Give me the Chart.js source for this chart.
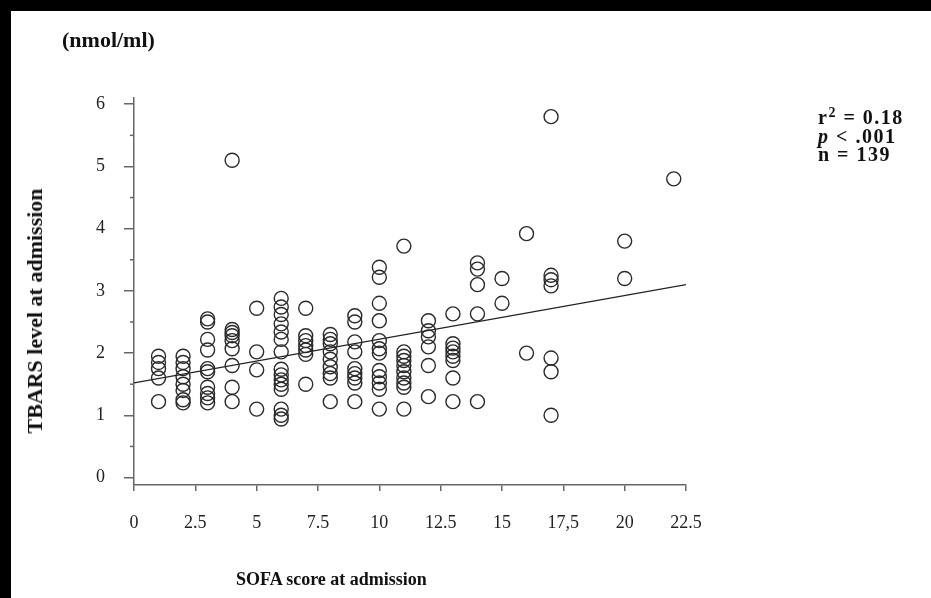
<!DOCTYPE html>
<html>
<head>
<meta charset="utf-8">
<script src="https://cdn.jsdelivr.net/npm/chart.js@4.4.0/dist/chart.umd.min.js"></script>
<style>
  body { margin: 0; background: #000; width: 931px; height: 598px; overflow: hidden; }
  #sheet { position: absolute; left: 11px; top: 11px; width: 920px; height: 587px; background: #fff; }
  #graficoTbars { position: absolute; left: 0; top: 0; }
  .txt { position: absolute; font-family: "Liberation Serif", serif; font-weight: bold; color: #111; white-space: nowrap; }
  #unidad { left: 51px; top: 16px; font-size: 22px; }
  #stats { left: 807px; top: 97px; font-size: 20px; line-height: 18.5px; letter-spacing: 1.5px; }
  #stats sup { font-size: 14px; line-height: 0; vertical-align: 7px; }
  #xtitulo { left: 225px; top: 558px; font-size: 18px; }
  #ytitulo { left: 24px; top: 300px; font-size: 22px; transform: translate(-50%, -50%) rotate(-90deg); }
</style>
</head>
<body>
<div id="sheet">
  <canvas id="graficoTbars" width="920" height="587"></canvas>
  <div class="txt" id="unidad">(nmol/ml)</div>
  <div class="txt" id="stats">r<sup>2</sup> = 0.18<br><i>p</i> &lt; .001<br>n = 139</div>
  <div class="txt" id="xtitulo">SOFA score at admission</div>
  <div class="txt" id="ytitulo">TBARS level at admission</div>
</div>
<script>
// SOFA score columns and the TBARS values read at each one
const sofaScores = [1, 2, 3, 4, 5, 6, 7, 8, 9, 10, 11, 12, 13, 14, 15, 16, 17, 20, 22];
const tbarsLevels = [
  [1.95, 1.85, 1.75, 1.6, 1.22],
  [1.95, 1.85, 1.75, 1.62, 1.5, 1.4, 1.25, 1.2],
  [2.55, 2.5, 2.22, 2.05, 1.75, 1.7, 1.45, 1.35, 1.28, 1.2],
  [5.1, 2.38, 2.33, 2.28, 2.2, 2.07, 1.8, 1.45, 1.22],
  [2.72, 2.02, 1.73, 1.1],
  [2.88, 2.74, 2.62, 2.47, 2.34, 2.22, 2.02, 1.74, 1.65, 1.57, 1.5, 1.42, 1.1, 1.0, 0.94],
  [2.72, 2.28, 2.2, 2.12, 2.05, 1.98, 1.5],
  [2.3, 2.22, 2.15, 2.02, 1.9, 1.78, 1.67, 1.6, 1.22],
  [2.6, 2.5, 2.18, 2.02, 1.75, 1.67, 1.6, 1.52, 1.22],
  [3.38, 3.22, 2.8, 2.52, 2.2, 2.07, 2.0, 1.72, 1.62, 1.52, 1.42, 1.1],
  [3.72, 2.02, 1.95, 1.88, 1.8, 1.7, 1.6, 1.52, 1.45, 1.1],
  [2.52, 2.36, 2.26, 2.1, 1.8, 1.3],
  [2.63, 2.15, 2.08, 2.02, 1.95, 1.88, 1.6, 1.22],
  [3.45, 3.35, 3.1, 2.63, 1.22],
  [3.2, 2.8],
  [3.92, 2.0],
  [5.8, 3.25, 3.18, 3.08, 1.92, 1.7, 1.0],
  [3.8, 3.2],
  [4.8]
];
// regression line ends
const trendX = [0, 22.5];
const trendY = [1.52, 3.1];
const xTickLabels = ['0', '2.5', '5', '7.5', '10', '12.5', '15', '17,5', '20', '22.5'];
const yMajorTicks = [0, 1, 2, 3, 4, 5, 6];
const yMinorTicks = [0.5, 1.5, 2.5, 3.5, 4.5, 5.5];

const puntos = [];
sofaScores.forEach(function (s, i) {
  tbarsLevels[i].forEach(function (v) { puntos.push({ x: s, y: v }); });
});
const linea = trendX.map(function (x, i) { return { x: x, y: trendY[i] }; });

const ejeColor = '#666';
const fuente = { family: 'Liberation Serif', size: 18 };

// short ticks at the half units of the y axis
const ticksMenores = {
  id: 'ticksMenores',
  afterDraw: function (chart) {
    const ctx = chart.ctx;
    const y = chart.scales.y;
    ctx.save();
    ctx.strokeStyle = ejeColor;
    ctx.lineWidth = 1.5;
    yMinorTicks.forEach(function (v) {
      const py = y.getPixelForValue(v);
      ctx.beginPath();
      ctx.moveTo(y.right - 4, py);
      ctx.lineTo(y.right, py);
      ctx.stroke();
    });
    ctx.restore();
  }
};

new Chart(document.getElementById('graficoTbars'), {
  type: 'scatter',
  data: {
    datasets: [{
      label: 'TBARS',
      data: puntos,
      pointStyle: 'circle',
      pointRadius: 7,
      pointBorderWidth: 1.4,
      pointBorderColor: '#2a2a2a',
      pointBackgroundColor: 'rgba(0,0,0,0)'
    }, {
      type: 'line',
      label: 'tendencia',
      data: linea,
      borderColor: '#222',
      borderWidth: 1.2,
      pointRadius: 0,
      fill: false
    }]
  },
  options: {
    responsive: false,
    animation: false,
    layout: { padding: { top: 87, right: 245, left: 0, bottom: 0 } },
    plugins: { legend: { display: false }, tooltip: { enabled: false } },
    scales: {
      x: {
        type: 'linear',
        min: 0,
        max: 22.5,
        afterFit: function (s) { s.height = 113; },
        ticks: {
          stepSize: 2.5,
          padding: 21,
          color: '#222',
          font: fuente,
          maxRotation: 0,
          callback: function (v, i) { return xTickLabels[i]; }
        },
        grid: { drawOnChartArea: false, drawTicks: true, tickLength: 6, color: ejeColor, lineWidth: 1.5 },
        border: { display: true, color: ejeColor, width: 1.5 }
      },
      y: {
        type: 'linear',
        bounds: 'data',
        min: -0.12,
        max: 6.1,
        afterFit: function (s) { s.width = 123; },
        afterBuildTicks: function (s) {
          s.ticks = yMajorTicks.map(function (v) { return { value: v }; });
        },
        ticks: { padding: 19, color: '#222', font: fuente, callback: function (v) { return String(v); } },
        grid: { drawOnChartArea: false, drawTicks: true, tickLength: 10, color: ejeColor, lineWidth: 1.5 },
        border: { display: true, color: ejeColor, width: 1.5 }
      }
    }
  },
  plugins: [ticksMenores]
});
</script>
</body>
</html>
